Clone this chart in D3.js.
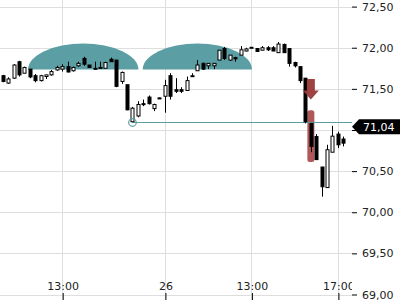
<!DOCTYPE html>
<html>
<head>
<meta charset="utf-8">
<script src="https://cdn.jsdelivr.net/npm/d3@7"></script>
<style>
  body { margin: 0; background: #fff; }
  svg { display: block; font-family: "DejaVu Sans", sans-serif; }
</style>
</head>
<body>
<svg id="chart"></svg>
<script>
// 15 minute candles, index 0 = 10:15 on the 25th
const opens = [71.66, 71.57, 71.63, 71.83, 71.69, 71.74, 71.66, 71.60, 71.65, 71.67,
  71.73, 71.74, 71.77, 71.72, 71.78, 71.87, 71.79, 71.75, 71.75, 71.75,
  71.86, 71.85, 71.59, 71.55, 71.10, 71.17, 71.32, 71.40, 71.26, 71.39,
  71.41, 71.66, 71.49, 71.49, 71.48, 71.655, 71.72, 71.81, 71.78, 71.78,
  71.85, 71.99, 71.85, 71.88, 71.91, 71.96, 72.00, 71.99, 71.97, 72.00,
  72.00, 71.94, 72.04, 71.99, 71.82, 71.77, 71.63, 71.08, 70.92, 70.55,
  70.30, 70.73, 70.95, 70.89];
const highs = [71.67, 71.64, 71.80, 71.84, 71.77, 71.74, 71.68, 71.67, 71.67, 71.73,
  71.78, 71.80, 71.83, 71.77, 71.83, 71.89, 71.79, 71.83, 71.83, 71.83,
  71.88, 71.85, 71.71, 71.55, 71.28, 71.35, 71.37, 71.42, 71.32, 71.395,
  71.61, 71.69, 71.63, 71.52, 71.65, 71.69, 71.85, 71.82, 71.81, 71.81,
  71.97, 72.01, 71.91, 71.89, 72.02, 72.00, 72.01, 71.99, 72.02, 72.02,
  72.02, 72.07, 72.05, 71.99, 71.83, 71.77, 71.63, 71.08, 70.95, 70.55,
  70.82, 71.05, 70.98, 70.92];
const lows = [71.58, 71.56, 71.62, 71.65, 71.69, 71.63, 71.58, 71.59, 71.62, 71.66,
  71.72, 71.71, 71.70, 71.71, 71.77, 71.78, 71.76, 71.74, 71.75, 71.75,
  71.83, 71.52, 71.56, 71.24, 71.095, 71.155, 71.29, 71.31, 71.23, 71.385,
  71.21, 71.37, 71.45, 71.45, 71.48, 71.65, 71.72, 71.73, 71.74, 71.74,
  71.85, 71.85, 71.84, 71.83, 71.91, 71.955, 72.00, 71.95, 71.97, 71.96,
  71.96, 71.94, 71.94, 71.77, 71.76, 71.57, 71.08, 70.73, 70.64, 70.19,
  70.295, 70.73, 70.78, 70.80];
const closes = [71.59, 71.62, 71.79, 71.67, 71.76, 71.645, 71.60, 71.66, 71.67, 71.71,
  71.76, 71.77, 71.705, 71.76, 71.81, 71.80, 71.76, 71.745, 71.76, 71.82,
  71.83, 71.53, 71.70, 71.245, 71.265, 71.31, 71.31, 71.32, 71.31, 71.39,
  71.54, 71.41, 71.47, 71.47, 71.60, 71.66, 71.79, 71.74, 71.81, 71.81,
  71.97, 71.87, 71.91, 71.865, 71.975, 71.985, 72.005, 71.955, 72.00, 71.975,
  71.96, 72.045, 71.94, 71.81, 71.78, 71.60, 71.10, 70.80, 70.64, 70.31,
  70.76, 70.925, 70.82, 70.84];

const xTicks = [11, 30, 46, 62];
const xTickLabels = ['13:00', '26', '13:00', '17:00'];
const yTicks = [69, 69.5, 70, 70.5, 71, 71.5, 72, 72.5];

// session domes (candle index range) and their price span
const domeStarts = [4.7, 25.9];
const domeEnds = [25.1, 46.1];
const domeBase = 71.735;
const domeTop = 72.05;

const lastPrice = 71.04;
const levelIndex = 24;
const signalIndex = 57;
const arrowTop = 71.62;
const arrowTip = 71.37;
const barHigh = 71.24;
const barLow = 70.61;

const width = 400;
const height = 300;
const plotRight = 352;
const teal = '#5b9ea3';
const grid = '#dedede';

const svg = d3.select('#chart')
  .attr('width', width)
  .attr('height', height);

const x = d3.scaleLinear().domain([-0.5, 63.5]).range([0, 346]);
const y = d3.scaleLinear().domain([69, 72.5]).range([294.5, 6.6]);

const fmt = d => d3.format('.2f')(d).replace('.', ',');

svg.append('clipPath').attr('id', 'plot-clip')
  .append('rect').attr('width', plotRight).attr('height', height);

const plot = svg.append('g').attr('clip-path', 'url(#plot-clip)');

// grid
plot.append('g').selectAll('line')
  .data(yTicks)
  .enter().append('line')
  .attr('x1', 0).attr('x2', plotRight)
  .attr('y1', d => Math.round(y(d)) + 0.5)
  .attr('y2', d => Math.round(y(d)) + 0.5)
  .attr('stroke', grid);

plot.append('g').selectAll('line')
  .data(xTicks)
  .enter().append('line')
  .attr('x1', d => Math.round(x(d)) + 0.5)
  .attr('x2', d => Math.round(x(d)) + 0.5)
  .attr('y1', 0).attr('y2', height)
  .attr('stroke', grid);

// domes
plot.append('g').selectAll('path')
  .data(domeStarts.map((s, i) => [s, domeEnds[i]]))
  .enter().append('path')
  .attr('d', d => {
    const x0 = x(d[0]), x1 = x(d[1]);
    const yb = y(domeBase);
    const rx = (x1 - x0) / 2, ry = yb - y(domeTop);
    return `M${x0},${yb} A${rx},${ry} 0 0 1 ${x1},${yb} Z`;
  })
  .attr('fill', teal);

// signal bar under the candle
plot.append('rect')
  .attr('x', x(signalIndex) - 3.5)
  .attr('width', 7)
  .attr('y', y(barHigh))
  .attr('height', y(barLow) - y(barHigh))
  .attr('rx', 2.5)
  .attr('fill', '#a84545')
  .attr('opacity', 0.9);

// level line from candle low to the axis
const levelY = Math.round(y(lows[levelIndex])) + 0.5;
plot.append('line')
  .attr('x1', x(levelIndex)).attr('x2', plotRight)
  .attr('y1', levelY).attr('y2', levelY)
  .attr('stroke', teal);

// candles
const candles = d3.range(opens.length).map(i => ({
  i, o: opens[i], h: highs[i], l: lows[i], c: closes[i]
}));

const candle = plot.append('g').selectAll('g')
  .data(candles)
  .enter().append('g');

candle.append('line')
  .attr('x1', d => Math.round(x(d.i)) + 0.5)
  .attr('x2', d => Math.round(x(d.i)) + 0.5)
  .attr('y1', d => y(d.h))
  .attr('y2', d => y(d.l))
  .attr('stroke', '#000');

candle.append('rect')
  .attr('x', d => Math.round(x(d.i)) - 1)
  .attr('width', 3)
  .attr('y', d => y(Math.max(d.o, d.c)))
  .attr('height', d => Math.max(1, Math.abs(y(d.o) - y(d.c))))
  .attr('fill', d => d.c >= d.o ? '#fff' : '#000')
  .attr('stroke', '#000')
  .attr('stroke-width', 1);

plot.append('circle')
  .attr('cx', x(levelIndex))
  .attr('cy', levelY)
  .attr('r', 3.8)
  .attr('fill', 'none')
  .attr('stroke', teal)
  .attr('stroke-width', 1.2);

// sell arrow
const ax = x(signalIndex);
const aTop = y(arrowTop), aTip = y(arrowTip);
plot.append('path')
  .attr('d', `M${ax - 4},${aTop} L${ax + 4},${aTop} L${ax + 4},${aTip - 9} L${ax + 8},${aTip - 9}
    L${ax},${aTip} L${ax - 8},${aTip - 9} L${ax - 4},${aTip - 9} Z`)
  .attr('fill', '#9a3838')
  .attr('opacity', 0.95);

// x axis labels and ticks
const xAxis = d3.axisBottom(x)
  .tickValues(xTicks)
  .tickFormat((d, i) => xTickLabels[i])
  .tickSize(7)
  .tickSizeOuter(0);

plot.append('g')
  .attr('transform', 'translate(0.5,293)')
  .call(xAxis)
  .call(g => g.select('.domain').remove())
  .call(g => g.selectAll('line').attr('stroke', '#000'))
  .call(g => g.selectAll('text')
    .attr('y', -3).attr('dy', 0)
    .attr('fill', '#222')
    .style('font-size', '11px')
    .style('font-family', '"DejaVu Sans", sans-serif'));

// y axis; the 71,00 label sits under the last price tag, so it is left blank
const yAxis = d3.axisRight(y)
  .tickValues(yTicks)
  .tickFormat(d => Math.abs(d - lastPrice) < 0.15 ? '' : fmt(d))
  .tickSize(5)
  .tickPadding(5);

svg.append('g')
  .attr('transform', `translate(${plotRight},0)`)
  .call(yAxis)
  .call(g => g.select('.domain').remove())
  .call(g => g.selectAll('line').attr('stroke', '#000'))
  .call(g => g.selectAll('text')
    .attr('fill', '#222')
    .style('font-size', '11px')
    .style('font-family', '"DejaVu Sans", sans-serif'));

// last price label
const py = y(lastPrice);
svg.append('path')
  .attr('d', `M${plotRight},${py} L${plotRight + 7},${py - 7.5} L${width},${py - 7.5}
    L${width},${py + 7.5} L${plotRight + 7},${py + 7.5} Z`)
  .attr('fill', '#000');

svg.append('text')
  .attr('x', plotRight + 11)
  .attr('y', py)
  .attr('dy', '0.35em')
  .attr('fill', '#fff')
  .style('font-size', '11px')
  .text(fmt(lastPrice));
</script>
</body>
</html>
